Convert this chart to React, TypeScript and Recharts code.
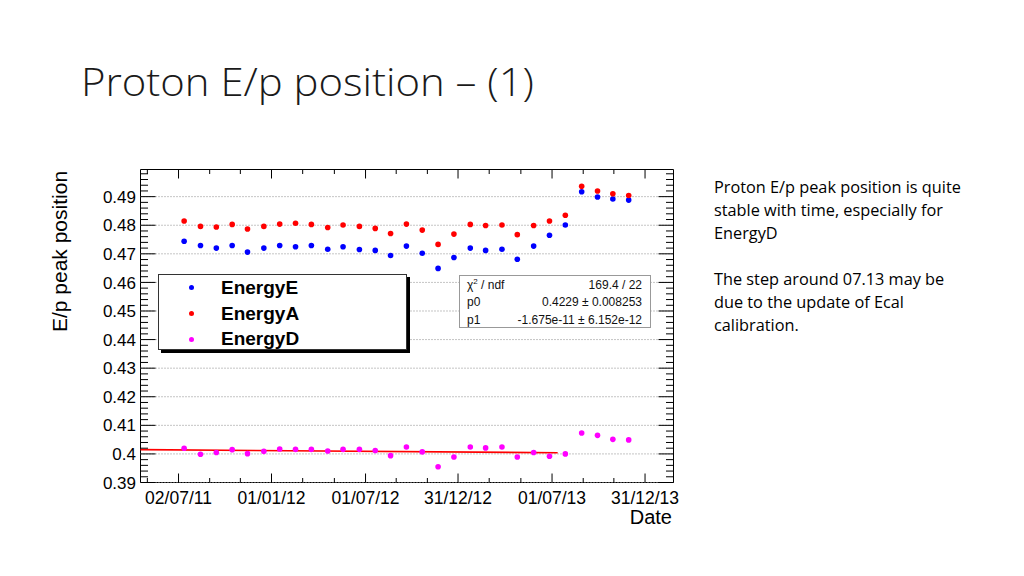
import React from 'react';
import { ScatterChart, Scatter, XAxis, YAxis, ReferenceLine, ReferenceArea } from 'recharts';

// Days since 02/07/11 (monthly measurements)
const dates = [11, 43, 74, 105, 135, 167, 198, 229, 260, 292, 322, 354, 385, 415, 446, 477, 508, 539, 571, 601, 633, 663, 695, 726, 757, 789, 820, 850, 881];
const energyE = [0.4744, 0.4729, 0.472, 0.4729, 0.4706, 0.472, 0.4729, 0.4725, 0.4729, 0.4716, 0.4725, 0.4715, 0.4712, 0.4694, 0.4727, 0.4702, 0.4649, 0.4687, 0.472, 0.4712, 0.4716, 0.4681, 0.4727, 0.4765, 0.4801, 0.4917, 0.4899, 0.4892, 0.4888];
const energyA = [0.4815, 0.4796, 0.4794, 0.4803, 0.4787, 0.4796, 0.4804, 0.4807, 0.4803, 0.4792, 0.4801, 0.4796, 0.4789, 0.4771, 0.4804, 0.4783, 0.4733, 0.4769, 0.4803, 0.4799, 0.4801, 0.4767, 0.4799, 0.4815, 0.4835, 0.4936, 0.492, 0.491, 0.4904];
const energyD = [0.402, 0.3999, 0.4005, 0.4015, 0.4001, 0.4009, 0.4017, 0.4016, 0.4016, 0.401, 0.4016, 0.4016, 0.4012, 0.3994, 0.4024, 0.4007, 0.3955, 0.3989, 0.4024, 0.4021, 0.4024, 0.3989, 0.4005, 0.3992, 0.4, 0.4073, 0.4065, 0.4051, 0.4049];

const xMajorTicks = [0, 182, 366, 547, 731, 913];
const xMajorLabels = ['02/07/11', '01/01/12', '01/07/12', '31/12/12', '01/07/13', '31/12/13'];
const yMajorTicks = [0.39, 0.4, 0.41, 0.42, 0.43, 0.44, 0.45, 0.46, 0.47, 0.48, 0.49];
const yMajorLabels = ['0.39', '0.4', '0.41', '0.42', '0.43', '0.44', '0.45', '0.46', '0.47', '0.48', '0.49'];
const xDomain = [-74.4, 968.7];
const yDomain = [0.39, 0.4995];

// Fit (pol1 on EnergyD)
const fitX = [-74.4, 742];
const fitY = [0.4015, 0.4004];
const statNames = ['χ2 / ndf', 'p0', 'p1'];
const statValues = ['169.4 / 22', '0.4229 ± 0.008253', '-1.675e-11 ± 6.152e-12'];

const legendNames = ['EnergyE', 'EnergyA', 'EnergyD'];
const legendColors = ['#0000ff', '#ff0000', '#ff00ff'];

const titleText = 'Proton E/p position – (1)';
const noteLines = [
  'Proton E/p peak position is quite',
  'stable with time, especially for',
  'EnergyD',
  '',
  'The step around 07.13 may be',
  'due to the update of Ecal',
  'calibration.',
];

// plot geometry
const P = { left: 140.5, right: 673.5, top: 169.5, bottom: 482.5 };
const YW = 60;
const XH = 30;
const FONT = "'Liberation Sans', Arial, Helvetica, sans-serif";

// minor tick positions
const xMinorTicks: number[] = [];
{
  const step = (xMajorTicks[1] - xMajorTicks[0]) / 3;
  xMinorTicks.push(Math.round(xMajorTicks[0] - step * 2), Math.round(xMajorTicks[0] - step));
  for (let i = 0; i < xMajorTicks.length - 1; i++) {
    const s = (xMajorTicks[i + 1] - xMajorTicks[i]) / 3;
    xMinorTicks.push(Math.round(xMajorTicks[i] + s), Math.round(xMajorTicks[i] + 2 * s));
  }
}
const xAllTicks = [...xMajorTicks, ...xMinorTicks].filter((v) => v >= xDomain[0] && v <= xDomain[1]).sort((a, b) => a - b);
const yAllTicks: number[] = [];
for (let k = 0; k <= 54; k++) yAllTicks.push(Math.round((0.39 + k * 0.002) * 10000) / 10000);

const XTick = (props: any) => {
  const { x, payload } = props;
  const idx = xMajorTicks.indexOf(payload.value);
  const major = idx >= 0;
  const len = major ? 9 : 4.5;
  return (
    <g>
      <line x1={x} x2={x} y1={P.bottom} y2={P.bottom - len} stroke="#000" strokeWidth={1} />
      <line x1={x} x2={x} y1={P.top} y2={P.top + len} stroke="#000" strokeWidth={1} />
      {major && (
        <text x={x} y={503.5} textAnchor="middle" fontFamily={FONT} fontSize={17.5} fill="#000">
          {xMajorLabels[idx]}
        </text>
      )}
    </g>
  );
};

const YTick = (props: any) => {
  const { y, payload } = props;
  const idx = yMajorTicks.findIndex((v) => Math.abs(v - payload.value) < 1e-6);
  const major = idx >= 0;
  const len = major ? 15 : 7.5;
  return (
    <g>
      <line x1={P.left} x2={P.left + len} y1={y} y2={y} stroke="#000" strokeWidth={1} />
      <line x1={P.right - len} x2={P.right} y1={y} y2={y} stroke="#000" strokeWidth={1} />
      {major && (
        <text x={136} y={y} dy="0.36em" textAnchor="end" fontFamily={FONT} fontSize={17} fill="#000">
          {yMajorLabels[idx]}
        </text>
      )}
    </g>
  );
};

const dot = (color: string) => (props: any) => (
  <circle cx={props.cx} cy={props.cy} r={2.8} fill={color} />
);

export default function App() {
  const dE = dates.map((d, i) => ({ x: d, y: energyE[i] }));
  const dA = dates.map((d, i) => ({ x: d, y: energyA[i] }));
  const dD = dates.map((d, i) => ({ x: d, y: energyD[i] }));
  return (
    <div style={{ position: 'absolute', left: 0, top: 0, width: 1024, height: 576, background: '#fff', overflow: 'hidden' }}>
      <div style={{ position: 'absolute', left: 0, top: 0 }}>
        <ScatterChart
          width={1024}
          height={576}
          margin={{ top: P.top, right: 1024 - P.right, bottom: 576 - P.bottom - XH, left: P.left - YW }}
        >
          <XAxis
            type="number"
            dataKey="x"
            domain={xDomain}
            allowDataOverflow
            ticks={xAllTicks}
            interval={0}
            tick={<XTick />}
            tickLine={false}
            axisLine={false}
            height={XH}
          />
          <YAxis
            type="number"
            dataKey="y"
            domain={yDomain}
            allowDataOverflow
            ticks={yAllTicks}
            interval={0}
            tick={<YTick />}
            tickLine={false}
            axisLine={false}
            width={YW}
          />
          {yMajorTicks.map((v) => (
            <ReferenceLine key={v} y={v} stroke="#8a8a8a" strokeDasharray="1 2" strokeWidth={1} />
          ))}
          <ReferenceArea x1={xDomain[0]} x2={xDomain[1]} y1={yDomain[0]} y2={yDomain[1]} fill="none" stroke="#000" strokeWidth={1} fillOpacity={0} strokeOpacity={1} />
          <ReferenceLine
            segment={[{ x: fitX[0], y: fitY[0] }, { x: fitX[1], y: fitY[1] }]}
            stroke="#ff0000"
            strokeWidth={1.6}
            ifOverflow="visible"
          />
          <Scatter name="EnergyE" data={dE} fill={legendColors[0]} shape={dot(legendColors[0])} isAnimationActive={false} />
          <Scatter name="EnergyA" data={dA} fill={legendColors[1]} shape={dot(legendColors[1])} isAnimationActive={false} />
          <Scatter name="EnergyD" data={dD} fill={legendColors[2]} shape={dot(legendColors[2])} isAnimationActive={false} />
        </ScatterChart>
      </div>

      {/* Legend box */}
      <div
        style={{
          position: 'absolute', left: 158, top: 274, width: 249, height: 76, boxSizing: 'border-box',
          border: '1px solid #333', background: '#fff', boxShadow: '3px 3px 0 #000',
        }}
      >
        {legendNames.map((n, i) => (
          <div key={n} style={{ position: 'absolute', left: 0, top: [1.7, 27.7, 53.3][i], height: 22, width: 240 }}>
            <div style={{ position: 'absolute', left: 29.5, top: 8.5, width: 5, height: 5, borderRadius: 3, background: legendColors[i] }} />
            <div style={{ position: 'absolute', left: 62, top: 0, lineHeight: '22px', fontFamily: FONT, fontWeight: 700, fontSize: 19, color: '#000', whiteSpace: 'nowrap' }}>
              {n}
            </div>
          </div>
        ))}
      </div>

      {/* Fit statistics box */}
      <div
        style={{
          position: 'absolute', left: 459, top: 275, width: 192, height: 53, boxSizing: 'border-box',
          border: '1px solid #999', background: '#fff',
        }}
      >
        {statNames.map((n, i) => (
          <div key={n} style={{ position: 'absolute', left: 7, right: 8, top: [1, 18.3, 36][i], height: 16, lineHeight: '16px', fontFamily: FONT, fontSize: 12, color: '#111' }}>
            <span style={{ position: 'absolute', left: 0 }}>
              {i === 0 ? (<>χ<sup style={{ fontSize: 8, verticalAlign: 'top', lineHeight: '10px' }}>2</sup> / ndf</>) : n}
            </span>
            <span style={{ position: 'absolute', right: 0, whiteSpace: 'nowrap' }}>{statValues[i]}</span>
          </div>
        ))}
      </div>

      {/* Texts */}
      <svg width={1024} height={576} style={{ position: 'absolute', left: 0, top: 0, pointerEvents: 'none' }}>
        <text x={81} y={96} fontFamily="'Open Sans', sans-serif" fontWeight={300} fontSize={38} fill="#1a1a1a" textLength={453} lengthAdjust="spacingAndGlyphs">
          {titleText}
        </text>
        {noteLines.map((l, i) =>
          l ? (
            <text key={i} x={714} y={192.5 + i * 23} fontFamily="'Open Sans', sans-serif" fontSize={16.3} fill="#000">
              {l}
            </text>
          ) : null
        )}
        <text x={66.5} y={251.5} transform="rotate(-90 66.5 251.5)" textAnchor="middle" fontFamily={FONT} fontSize={21} fill="#000">
          E/p peak position
        </text>
        <text x={672} y={524.3} textAnchor="end" fontFamily={FONT} fontSize={20} fill="#000">
          Date
        </text>
      </svg>
    </div>
  );
}
